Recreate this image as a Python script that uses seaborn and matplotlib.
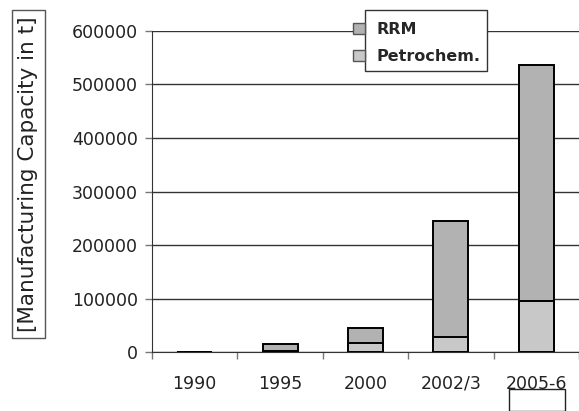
import pandas as pd
import matplotlib.pyplot as plt
import seaborn as sns
from matplotlib.patches import Patch, Rectangle

# values (tonnes)
years = ['1990', '1995', '2000', '2002/3', '2005-6']
petrochem = [0, 2000, 18000, 29000, 95000]
rrm = [0, 14000, 27000, 216000, 441000]
yticks = [0, 100000, 200000, 300000, 400000, 500000, 600000]

df = pd.DataFrame({'year': years, 'petrochem': petrochem, 'rrm': rrm})
df['total'] = df['petrochem'] + df['rrm']

sns.set_style('white')
plt.rcParams['font.family'] = ['DejaVu Sans']

fig = plt.figure(figsize=(5.79, 4.11), dpi=100)
ax = fig.add_axes([152 / 579, 0.1428, 1 - 152 / 579, 0.9253 - 0.1428])

rrm_col = '#b2b2b2'
pet_col = '#c8c8c8'

# stacked bars: total first (RRM colour) then petrochem on top of it
sns.barplot(data=df, x='year', y='total', color=rrm_col, width=0.41,
            edgecolor='black', linewidth=1.4, saturation=1, ax=ax, zorder=3)
sns.barplot(data=df, x='year', y='petrochem', color=pet_col, width=0.41,
            edgecolor='black', linewidth=1.4, saturation=1, ax=ax, zorder=3)

ax.set_xlim(-0.5, 4.5)
ax.set_ylim(0, 600000)
ax.set_yticks(yticks)
ax.set_yticklabels([str(v) for v in yticks])
ax.grid(axis='y', color='#333333', linewidth=1, zorder=0)
ax.grid(axis='x', visible=False)

for s in ['top', 'right']:
    ax.spines[s].set_visible(False)
ax.spines['left'].set_color('#333333')
ax.spines['bottom'].set_color('#333333')

# x ticks sit between categories
ax.set_xticks([i - 0.5 for i in range(6)], minor=True)
ax.tick_params(axis='x', which='minor', length=5, color='#777777', width=1, direction='out', bottom=True)
ax.tick_params(axis='x', which='major', length=0, labelsize=12.5, pad=16, colors='#222222')
ax.tick_params(axis='y', length=5, color='#777777', width=1, direction='out', left=True,
               labelsize=12.5, pad=5, colors='#222222')

ax.set_xlabel('')
ax.set_ylabel('[Manufacturing Capacity in t]', fontsize=15.5, color='#222222',
              bbox=dict(boxstyle='square,pad=0.3', fc='white', ec='#555555', lw=1))
ax.yaxis.label.set_va('center')
ax.yaxis.set_label_coords(-0.29, 0.555)

# legend: frame drawn separately, markers sit outside the box
fig.patches.append(Rectangle((365 / 579, 1 - 71 / 411), 122 / 579, 61 / 411,
                             transform=fig.transFigure, fc='white', ec='#333333', lw=1, zorder=5))
handles = [Patch(facecolor=rrm_col, edgecolor='#555555', label='RRM'),
           Patch(facecolor=pet_col, edgecolor='#555555', label='Petrochem.')]
leg = fig.legend(handles=handles, loc='upper left', bbox_to_anchor=(353 / 579, 1 - 22 / 411),
                 frameon=False, handlelength=0.75, handleheight=0.75, handletextpad=0.75,
                 labelspacing=0.75, borderpad=0, borderaxespad=0,
                 prop={'weight': 'bold', 'size': 11.5})
leg.set_zorder(6)

# small empty box at the bottom right
fig.patches.append(Rectangle((509 / 579, 0), 56 / 579, 22 / 411,
                             transform=fig.transFigure, fc='white', ec='#222222', lw=1))

fig.savefig('out.png', dpi=100)
